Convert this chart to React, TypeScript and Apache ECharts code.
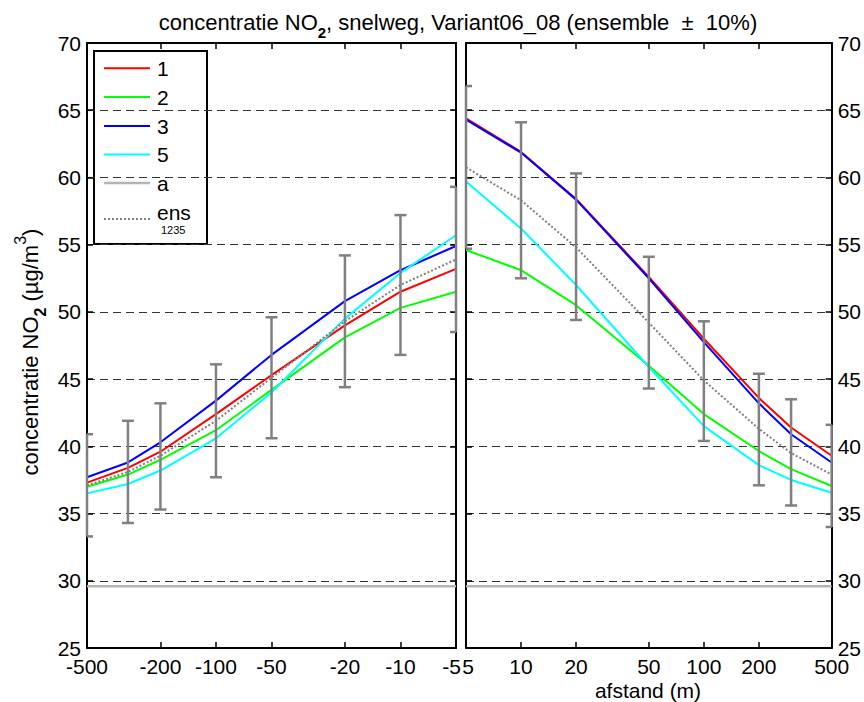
import React, { useEffect, useRef } from 'react';
import * as echarts from 'echarts';

// ---------- data ----------
const distLeft = [-500, -300, -200, -100, -50, -20, -10, -5];
const distRight = [5, 10, 20, 50, 100, 200, 300, 500];
const tickDistances = [5, 10, 20, 50, 100, 200, 500];

const s1Left = [37.3, 38.4, 39.6, 42.4, 45.3, 49.0, 51.5, 53.2];
const s2Left = [37.0, 37.9, 39.0, 41.2, 44.2, 48.1, 50.3, 51.5];
const s3Left = [37.7, 38.8, 40.3, 43.4, 46.8, 50.8, 53.1, 54.9];
const s5Left = [36.5, 37.2, 38.2, 40.6, 44.0, 49.5, 52.9, 55.7];
const aLeft = [29.6, 29.6, 29.6, 29.6, 29.6, 29.6, 29.6, 29.6];
const ensLeft = [37.1, 38.1, 39.3, 41.9, 45.1, 49.3, 52.0, 53.9];
const errLowLeft = [33.3, 34.3, 35.3, 37.7, 40.6, 44.4, 46.8, 48.5];
const errHighLeft = [40.9, 41.9, 43.2, 46.1, 49.6, 54.2, 57.2, 59.3];

const s1Right = [64.4, 61.9, 58.4, 52.6, 48.0, 43.6, 41.4, 39.3];
const s2Right = [54.6, 53.1, 50.5, 46.0, 42.4, 39.65, 38.3, 37.05];
const s3Right = [64.3, 61.85, 58.35, 52.5, 47.75, 43.2, 40.9, 38.8];
const s5Right = [59.7, 56.2, 52.0, 45.9, 41.5, 38.6, 37.5, 36.55];
const aRight = [29.6, 29.6, 29.6, 29.6, 29.6, 29.6, 29.6, 29.6];
const ensRight = [60.75, 58.3, 54.8, 49.2, 44.9, 41.3, 39.5, 37.9];
const errLowRight = [54.7, 52.5, 49.4, 44.3, 40.4, 37.1, 35.6, 34.0];
const errHighRight = [66.8, 64.1, 60.3, 54.1, 49.3, 45.4, 43.5, 41.6];

const yMin = 25;
const yMax = 70;
const yStep = 5;

// ---------- styling ----------
const FONT = 'Liberation Sans, Arial, Helvetica, sans-serif';
const seriesDefs = [
  { name: '1', left: s1Left, right: s1Right, color: '#ff0000', width: 2, dash: 'solid' as any },
  { name: '2', left: s2Left, right: s2Right, color: '#00ff00', width: 2, dash: 'solid' as any },
  { name: '3', left: s3Left, right: s3Right, color: '#0000ff', width: 2, dash: 'solid' as any },
  { name: '5', left: s5Left, right: s5Right, color: '#00ffff', width: 2, dash: 'solid' as any },
  { name: 'a', left: aLeft, right: aRight, color: '#b4b4b4', width: 2.5, dash: 'solid' as any },
  { name: 'ens', left: ensLeft, right: ensRight, color: '#808080', width: 2, dash: [2, 2] as any },
];

const lg = (d: number) => Math.log10(Math.abs(d));

function xAxisDef(gridIndex: number, position: string, inverse: boolean, showLabel: boolean, negative: boolean) {
  const vals = tickDistances.map(lg);
  return {
    type: 'value',
    gridIndex,
    position,
    inverse,
    min: lg(5),
    max: lg(500),
    axisLine: { show: true, onZero: false, lineStyle: { color: '#000', width: 2 } },
    axisTick: { show: true, inside: true, length: 6, customValues: vals, lineStyle: { color: '#000', width: 1.5 } },
    axisLabel: {
      show: showLabel,
      customValues: vals,
      formatter: (v: number) => {
        const n = Math.round(Math.pow(10, v));
        if (n === 5) return negative ? '{l|-5}' : '{r|5}';
        return (negative ? '-' : '') + n;
      },
      fontSize: 21,
      fontFamily: FONT,
      color: '#000',
      lineHeight: 18,
      margin: 9,
      rich: {
        l: { fontSize: 21, fontFamily: FONT, color: '#000', lineHeight: 18, padding: [0, 9, 0, 0] },
        r: { fontSize: 21, fontFamily: FONT, color: '#000', lineHeight: 18, padding: [0, 0, 0, 4] },
      },
    },
    splitLine: { show: false },
  };
}

function yAxisDef(gridIndex: number, position: string, showLabel: boolean, grid: boolean) {
  return {
    type: 'value',
    gridIndex,
    position,
    min: yMin,
    max: yMax,
    interval: yStep,
    axisLine: { show: true, onZero: false, lineStyle: { color: '#000', width: 2 } },
    axisTick: { show: true, inside: true, length: 6, lineStyle: { color: '#000', width: 1.5 } },
    axisLabel: { show: showLabel, fontSize: 21, fontFamily: FONT, color: '#000', margin: 6, lineHeight: 18 },
    splitLine: {
      show: grid,
      showMinLine: false,
      showMaxLine: false,
      lineStyle: { color: '#333', width: 1, type: [8, 5] },
    },
  };
}

function lineSeries(def: any, xs: number[], ys: number[], xi: number, yi: number) {
  return {
    type: 'line',
    name: def.name,
    xAxisIndex: xi,
    yAxisIndex: yi,
    data: xs.map((d, i) => [lg(d), ys[i]]),
    showSymbol: false,
    symbol: 'none',
    lineStyle: { color: def.color, width: def.width, type: def.dash },
    itemStyle: { color: def.color },
    silent: true,
    z: 3,
  };
}

function errorSeries(xs: number[], lo: number[], hi: number[], xi: number, yi: number) {
  return {
    type: 'custom',
    name: 'ensemble ± 10%',
    xAxisIndex: xi,
    yAxisIndex: yi,
    clip: false,
    z: 10,
    encode: { x: 0, y: [1, 2] },
    data: xs.map((d, i) => [lg(d), lo[i], hi[i]]),
    renderItem: (params: any, api: any) => {
      const cs = params.coordSys;
      const x = api.value(0);
      const pLo = api.coord([x, api.value(1)]);
      const pHi = api.coord([x, api.value(2)]);
      const hw = 6;
      const xa = Math.max(pLo[0] - hw, cs.x);
      const xb = Math.min(pLo[0] + hw, cs.x + cs.width);
      const st = { stroke: '#808080', lineWidth: 2.5 };
      return {
        type: 'group',
        children: [
          { type: 'line', shape: { x1: pLo[0], y1: pLo[1], x2: pHi[0], y2: pHi[1] }, style: st },
          { type: 'line', shape: { x1: xa, y1: pLo[1], x2: xb, y2: pLo[1] }, style: st },
          { type: 'line', shape: { x1: xa, y1: pHi[1], x2: xb, y2: pHi[1] }, style: st },
        ],
      };
    },
  };
}

function buildOption() {
  const series: any[] = [];
  seriesDefs.forEach((def) => {
    series.push(lineSeries(def, distLeft, def.left, 0, 0));
    series.push(lineSeries(def, distRight, def.right, 2, 3));
  });
  series.push(errorSeries(distLeft, errLowLeft, errHighLeft, 0, 0));
  series.push(errorSeries(distRight, errLowRight, errHighRight, 2, 3));

  const legendX = 94;
  const legendY = 51;
  const rowYs = [68.3, 97, 126, 154.5, 183, 219];
  const legendChildren: any[] = [
    {
      type: 'rect',
      shape: { x: legendX, y: legendY, width: 113, height: 193 },
      style: { fill: '#fff', stroke: '#000', lineWidth: 2 },
    },
  ];
  seriesDefs.forEach((def, i) => {
    const y = rowYs[i];
    legendChildren.push({
      type: 'line',
      shape: { x1: 104, y1: y, x2: 150, y2: y },
      style: { stroke: def.color, lineWidth: def.width, lineDash: Array.isArray(def.dash) ? def.dash : null },
    });
    if (def.name === 'ens') {
      legendChildren.push({
        type: 'text',
        x: 157,
        y: 212,
        style: { text: 'ens', fontSize: 21, fontFamily: FONT, fill: '#000', align: 'left', verticalAlign: 'middle' },
      });
      legendChildren.push({
        type: 'text',
        x: 161,
        y: 230,
        style: { text: '1235', fontSize: 11, fontFamily: FONT, fill: '#000', align: 'left', verticalAlign: 'middle' },
      });
    } else {
      legendChildren.push({
        type: 'text',
        x: 157,
        y: y,
        style: { text: def.name, fontSize: 21, fontFamily: FONT, fill: '#000', align: 'left', verticalAlign: 'middle' },
      });
    }
  });

  return {
    animation: false,
    backgroundColor: '#fff',
    grid: [
      { left: 87, top: 43, width: 369, height: 605, containLabel: false },
      { left: 466, top: 43, width: 368, height: 605, containLabel: false },
    ],
    xAxis: [
      xAxisDef(0, 'bottom', true, true, true),
      xAxisDef(0, 'top', true, false, true),
      xAxisDef(1, 'bottom', false, true, false),
      xAxisDef(1, 'top', false, false, false),
    ],
    yAxis: [
      yAxisDef(0, 'left', true, true),
      yAxisDef(0, 'right', false, false),
      yAxisDef(1, 'left', false, false),
      yAxisDef(1, 'right', true, true),
    ],
    series,
    graphic: [
      {
        type: 'text',
        x: 458,
        y: 22,
        z: 100,
        style: {
          text: '{b|concentratie NO}{s|2}{b|, snelweg, Variant06_08 (ensemble\u00a0 ±\u00a0 10%)}',
          align: 'center',
          verticalAlign: 'middle',
          fill: '#000',
          rich: {
            b: { fontSize: 22, fontFamily: FONT, lineHeight: 36, verticalAlign: 'middle', fill: '#000' },
            s: { fontSize: 15, fontFamily: FONT, fontWeight: 'bold', lineHeight: 10, verticalAlign: 'bottom', fill: '#000' },
          },
        },
      },
      {
        type: 'text',
        x: 30,
        y: 352,
        rotation: Math.PI / 2,
        z: 100,
        style: {
          text: '{b|concentratie NO}{s|2}{b| (µg/m}{p|3}{b|)}',
          align: 'center',
          verticalAlign: 'middle',
          fill: '#000',
          rich: {
            b: { fontSize: 22, fontFamily: FONT, lineHeight: 36, verticalAlign: 'middle', fill: '#000' },
            s: { fontSize: 16, fontFamily: FONT, fontWeight: 'bold', lineHeight: 18, verticalAlign: 'bottom', fill: '#000' },
            p: { fontSize: 16, fontFamily: FONT, lineHeight: 12, verticalAlign: 'top', fill: '#000' },
          },
        },
      },
      {
        type: 'text',
        x: 648,
        y: 690,
        z: 100,
        style: { text: 'afstand (m)', fontSize: 21, fontFamily: FONT, fill: '#000', align: 'center', verticalAlign: 'middle' },
      },
      { type: 'group', z: 100, children: legendChildren },
    ],
  };
}

export default function App() {
  const ref = useRef<HTMLDivElement>(null);
  useEffect(() => {
    if (!ref.current) return;
    const chart = echarts.init(ref.current, null, { renderer: 'svg' });
    chart.setOption(buildOption() as any);
    return () => chart.dispose();
  }, []);
  return (
    <div
      ref={ref}
      style={{ position: 'fixed', left: 0, top: 0, width: 864, height: 702, background: '#fff' }}
    />
  );
}
